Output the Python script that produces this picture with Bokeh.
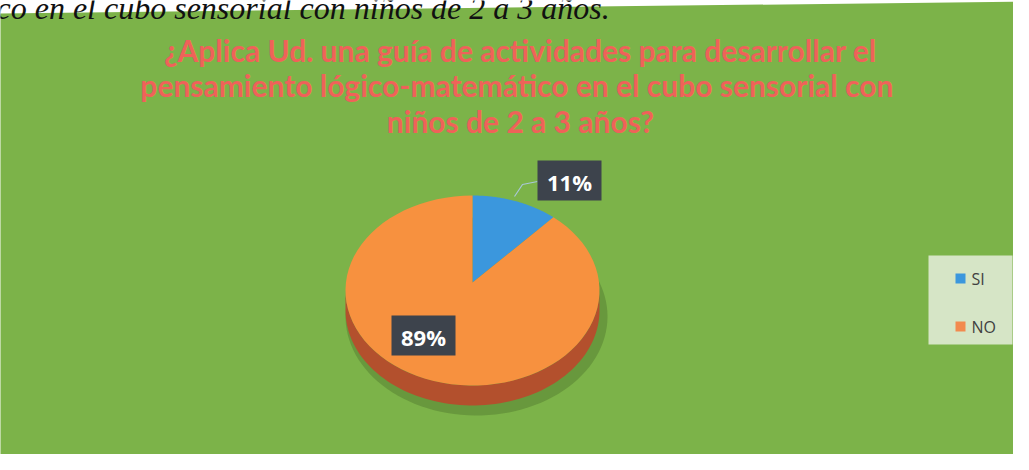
import numpy as np
from bokeh.plotting import figure
from bokeh.models import Range1d
from bokeh.core.properties import value
from bokeh.embed import file_html
from bokeh.resources import INLINE

# ---- data ----
categories = ["SI", "NO"]
percentages = [11, 89]
slice_colors = ["#3b97dd", "#f7913f"]
side_colors = ["#2a6fa8", "#b3502d"]
legend_colors = ["#3b97dd", "#f28a4e"]
title_lines = [
    "¿Aplica Ud. una guía de actividades para desarrollar el",
    "pensamiento lógico-matemático  en el cubo sensorial con",
    "niños de 2 a 3 años?",
]
caption = "co en el cubo sensorial con niños de 2 a 3 años."

W, H = 1013, 454
p = figure(width=W, height=H, output_backend="svg", toolbar_location=None,
           x_range=Range1d(8, 8 + W), y_range=Range1d(8 + H, 8),
           min_border=0, background_fill_color="white", border_fill_color="white")
p.axis.visible = False
p.grid.visible = False
p.outline_line_color = None

# green chart area (slightly tilted top edge, as in the scan)
p.patch([7, 1040, 1040, 6], [21, 9, 475, 475], fill_color="#7cb349", line_color=None)

# caption partially cut at top
p.text(x=[4], y=[15], text=[caption], text_font=value("Liberation Serif"),
       text_font_style="italic", text_font_size="32px", text_color="#111111",
       text_baseline="alphabetic", text_align="left")

# title
for i, line in enumerate(title_lines):
    p.text(x=[528], y=[57 + i * 35.5], text=[line], text_font=value("Lato"),
           text_font_style="bold", text_font_size="30px", text_color="#ef6259",
           text_align="center", text_baseline="middle")

# pie geometry (layout)
cx, cy, rx, ry, depth = 480, 298, 127, 95, 20

def arc(a0, a1, yoff=0, n=80):
    t = np.radians(np.linspace(a0, a1, n))
    return cx + rx * np.cos(t), cy + yoff - ry * np.sin(t)

vals = np.array(percentages, dtype=float)
cum = np.concatenate([[0], np.cumsum(vals)]) / vals.sum() * 360.0
starts = 90 - cum[:-1]
ends = 90 - cum[1:]

# shadow
ts = np.radians(np.linspace(0, 360, 120))
p.patch(cx + 4 + (rx + 4) * np.cos(ts), cy + depth + 6 - (ry + 4) * np.sin(ts),
        fill_color="#3d5a22", fill_alpha=0.3, line_color=None)

# sides (front half only)
for s, e, col in zip(starts, ends, side_colors):
    for k in (-1, 0, 1):
        lo, hi = max(e, -180 + 360 * k), min(s, 0 + 360 * k)
        if lo < hi:
            x1, y1 = arc(lo, hi)
            x2, y2 = arc(hi, lo, yoff=depth)
            p.patch(np.concatenate([x1, x2]), np.concatenate([y1, y2]),
                    fill_color=col, line_color=None)

# tops
for s, e, col in zip(starts, ends, slice_colors):
    ax, ay = arc(s, e)
    p.patch(np.concatenate([[cx], ax, [cx]]), np.concatenate([[cy - 8], ay, [cy - 8]]),
            fill_color=col, line_color=None)

# data labels
label_pos = [(577, 188), (431, 343)]
p.line([522, 530, 545], [204, 192, 189], line_color="#a9c7d8", line_width=1.2)
for (lx, ly), v in zip(label_pos, percentages):
    p.rect(x=[lx], y=[ly], width=64, height=40, fill_color="#3d434c", line_color=None)
    p.text(x=[lx], y=[ly + 1], text=[f"{v}%"], text_font=value("Open Sans"),
           text_font_style="bold", text_font_size="22px", text_color="white",
           text_align="center", text_baseline="middle")

# legend
p.quad(left=[936], right=[1020], top=[263], bottom=[352], fill_color="#d6e5c6", line_color=None)
for i, (cat, col) in enumerate(zip(categories, legend_colors)):
    yy = 286 + i * 48
    p.rect(x=[968], y=[yy], width=10, height=10, fill_color=col, line_color=None)
    p.text(x=[979], y=[yy], text=[cat], text_font=value("Open Sans"),
           text_font_size="16px", text_color="#404040",
           text_align="left", text_baseline="middle")

open("out.html", "w").write(file_html(p, INLINE))
